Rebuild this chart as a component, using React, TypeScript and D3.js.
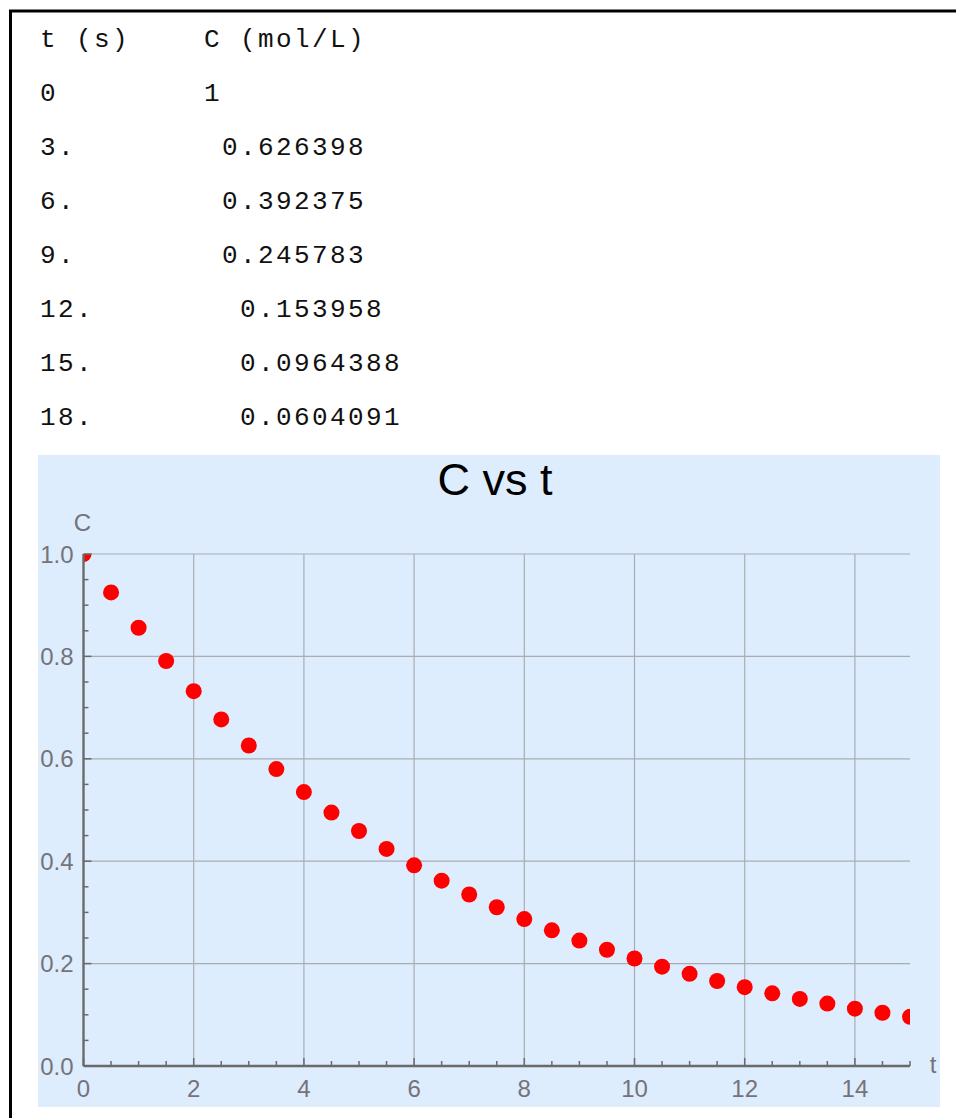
import React from 'react';
import * as d3 from 'd3';

// table shown above the plot
const tableHeader = ['t (s)', 'C (mol/L)'];
const tableTimes = ['0', '3.', '6.', '9.', '12.', '15.', '18.'];
const tableConc = ['1', '0.626398', '0.392375', '0.245783', '0.153958', '0.0964388', '0.0604091'];

// points
const sampleTimes = [0, 0.5, 1, 1.5, 2, 2.5, 3, 3.5, 4, 4.5, 5, 5.5, 6, 6.5, 7, 7.5,
  8, 8.5, 9, 9.5, 10, 10.5, 11, 11.5, 12, 12.5, 13, 13.5, 14, 14.5, 15];
const sampleConc = [1, 0.925, 0.856, 0.791, 0.732, 0.677, 0.626, 0.58, 0.535, 0.495, 0.459,
  0.424, 0.392, 0.362, 0.335, 0.31, 0.287, 0.265, 0.245, 0.227, 0.21, 0.194, 0.18, 0.166,
  0.154, 0.142, 0.131, 0.122, 0.112, 0.104, 0.096];

const xTicks = [0, 2, 4, 6, 8, 10, 12, 14];
const yTicks = [0, 0.2, 0.4, 0.6, 0.8, 1.0];

const W = 956;
const H = 1118;

function App() {
  const x = d3.scaleLinear().domain([0, 15]).range([83.5, 910]);
  const y = d3.scaleLinear().domain([0, 1]).range([1066, 554]);

  const xMinor = d3.range(0, 15.001, 0.5).filter((v) => Math.abs(v % 2) > 1e-6);
  const yMinor = d3.range(0, 1.001, 0.05).filter((v) => Math.abs((v * 100) % 20) > 1e-6 && Math.abs((v * 100) % 20 - 20) > 1e-6);

  const mono = '"Liberation Mono", "Courier New", monospace';
  const sans = '"Liberation Sans", Arial, sans-serif';
  const charW = 18;
  const rowY = (i: number) => 47 + i * 54;

  const [x0, x1] = x.range();
  const [y0, y1] = y.range();

  return (
    <svg width={W} height={H} style={{ position: 'absolute', left: 0, top: 0, display: 'block' }}>
      <rect width={W} height={H} fill="#fff" />
      {/* frame */}
      <path d={`M10.5,${H} V11 H${W}`} fill="none" stroke="#000" strokeWidth={3} />

      {/* table */}
      <g fontFamily={mono} fontSize={26} letterSpacing={2.4} fill="#111">
        <text x={40} y={rowY(0)}>{tableHeader[0]}</text>
        <text x={204} y={rowY(0)}>{tableHeader[1]}</text>
        {tableTimes.map((t, i) => (
          <g key={t}>
            <text x={40} y={rowY(i + 1)}>{t}</text>
            <text x={204 + charW * (t.length - 1)} y={rowY(i + 1)}>{tableConc[i]}</text>
          </g>
        ))}
      </g>

      {/* plot */}
      <rect x={38} y={455} width={902} height={652} fill="#ddedfd" />
      <text x={495} y={495} textAnchor="middle" fontFamily={sans} fontSize={45} fill="#000">C vs t</text>

      <clipPath id="plotClip">
        <rect x={x0} y={y1} width={x1 - x0} height={y0 - y1} />
      </clipPath>

      <g stroke="#a9adb2" strokeWidth={1.2}>
        {xTicks.filter((v) => v > 0).map((v) => (
          <line key={'gx' + v} x1={x(v)} x2={x(v)} y1={y0} y2={y1} />
        ))}
        {yTicks.filter((v) => v > 0).map((v) => (
          <line key={'gy' + v} x1={x0} x2={x1} y1={y(v)} y2={y(v)} />
        ))}
      </g>

      <g clipPath="url(#plotClip)">
        {sampleTimes.map((t, i) => (
          <circle key={t} cx={x(t)} cy={y(sampleConc[i])} r={8} fill="#ff0000" />
        ))}
      </g>

      {/* axes */}
      <g stroke="#6a6a6a" strokeWidth={1.5}>
        <line x1={x0} x2={x1} y1={y0} y2={y0} strokeWidth={2.4} />
        <line x1={x0} x2={x0} y1={y0} y2={y1} strokeWidth={2.4} />
        {xTicks.map((v) => (
          <line key={'tx' + v} x1={x(v)} x2={x(v)} y1={y0} y2={y0 - 8} />
        ))}
        {xMinor.map((v) => (
          <line key={'mx' + v} x1={x(v)} x2={x(v)} y1={y0} y2={y0 - 5} />
        ))}
        {yTicks.map((v) => (
          <line key={'ty' + v} x1={x0} x2={x0 + 8} y1={y(v)} y2={y(v)} />
        ))}
        {yMinor.map((v) => (
          <line key={'my' + v} x1={x0} x2={x0 + 5} y1={y(v)} y2={y(v)} />
        ))}
      </g>

      <g fontFamily={sans} fontSize={24} fill="#75737a">
        {xTicks.map((v) => (
          <text key={'lx' + v} x={x(v)} y={y0 + 31} textAnchor="middle">{d3.format('d')(v)}</text>
        ))}
        {yTicks.map((v) => (
          <text key={'ly' + v} x={x0 - 10} y={y(v) + 8.5} textAnchor="end">{d3.format('.1f')(v)}</text>
        ))}
        <text x={x0 - 1} y={y1 - 23} textAnchor="middle">C</text>
        <text x={x1 + 23} y={y0 + 7} textAnchor="middle">t</text>
      </g>
    </svg>
  );
}

export default App;
